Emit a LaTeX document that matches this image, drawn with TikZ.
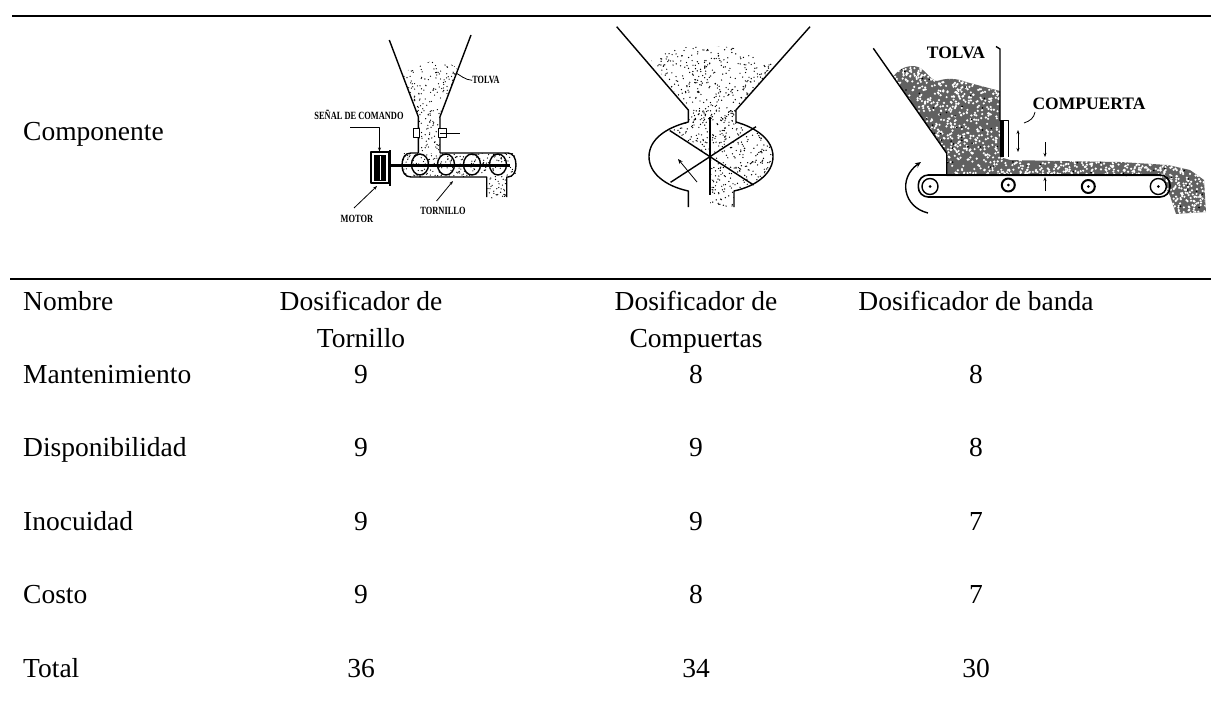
\documentclass[tikz,border=0pt]{standalone}
\usepackage{fontspec}
\setmainfont{Liberation Serif}
\usetikzlibrary{arrows.meta}
\newcommand{\speckle}[7]{%
  \foreach \k in {1,...,#5}{%
    \pgfmathsetmacro{\sx}{#1+rnd*(#2-#1)}%
    \pgfmathsetmacro{\sy}{#3+rnd*(#4-#3)}%
    \fill[#7] (\sx,\sy) circle[radius=#6pt];}}
\begin{document}
\begin{tikzpicture}[x=1pt,y=-1pt,line join=round,
  tx/.style={font=\fontsize{27.5}{37}\selectfont, inner sep=0pt, anchor=base},
  lt/.style={tx, anchor=base west},
  lab/.style={font=\fontsize{10.5}{11}\selectfont\bfseries, inner sep=0pt},
  bigl/.style={font=\fontsize{17.5}{18}\selectfont\bfseries, inner sep=0pt},
  rule/.style={line width=2pt},
  ln/.style={line width=1.4pt},
  thinln/.style={line width=0.8pt},
  tip/.style={-{Stealth[length=4pt,width=3pt]}}]
\pgfmathsetseed{4242}
\useasboundingbox (0,0) rectangle (1211,715);
\fill[white] (0,0) rectangle (1211,715);

% ---------------- table rules
\draw[rule] (12,15.5) -- (1211,15.5);
\draw[rule] (10,279) -- (1211,279);

% ---------------- table text
\node[lt] (comp) at (23,140) {Componente};
\node[lt] (nom) at (23,310) {Nombre};
\node[tx, align=center] (h1) at (361,347) {Dosificador de\\Tornillo};
\node[tx, align=center] (h2) at (696,347) {Dosificador de\\Compuertas};
\node[tx] (h3) at (976,310) {Dosificador de banda};

\node[lt] (r1) at (23,383) {Mantenimiento};
\node[tx] (r1a) at (361,383) {9};
\node[tx] (r1b) at (696,383) {8};
\node[tx] (r1c) at (976,383) {8};

\node[lt] (r2) at (23,456.5) {Disponibilidad};
\node[tx] (r2a) at (361,456.5) {9};
\node[tx] (r2b) at (696,456.5) {9};
\node[tx] (r2c) at (976,456.5) {8};

\node[lt] (r3) at (23,530) {Inocuidad};
\node[tx] (r3a) at (361,530) {9};
\node[tx] (r3b) at (696,530) {9};
\node[tx] (r3c) at (976,530) {7};

\node[lt] (r4) at (23,603.5) {Costo};
\node[tx] (r4a) at (361,603.5) {9};
\node[tx] (r4b) at (696,603.5) {8};
\node[tx] (r4c) at (976,603.5) {7};

\node[lt] (r5) at (23,677) {Total};
\node[tx] (r5a) at (361,677) {36};
\node[tx] (r5b) at (696,677) {34};
\node[tx] (r5c) at (976,677) {30};

% ================= picture 1 : screw feeder
\begin{scope}
  \clip (404,76) .. controls (410,60) and (450,56) .. (458,70) -- (440,116.7) -- (440,153) -- (418.3,153) -- (418.3,116.7) -- cycle;
  \speckle{400}{462}{56}{154}{380}{0.65}{black}
\end{scope}
\begin{scope}
  \clip (402,153) rectangle (516,177);
  \speckle{402}{516}{153}{177}{190}{0.65}{black}
\end{scope}
\begin{scope}
  \clip (487,176) rectangle (507,198);
  \speckle{487}{507}{176}{198}{35}{0.65}{black}
\end{scope}
\draw[ln] (389.3,40) -- (418.3,116.7) -- (418.3,153);
\draw[ln] (471,35) -- (440,116.7) -- (440,153);
\draw[thinln, fill=white] (413.5,128.5) rectangle (419,137);
\draw[thinln, fill=white] (438.5,128.5) rectangle (446,137);
\draw[line width=1.6pt] (440,133.3) -- (460,133.3);
% tube
\draw[ln] (418.3,153) -- (411,153) .. controls (405,153) and (402,158) .. (402,165) .. controls (402,172) and (405,177) .. (411,177) -- (486.7,177) -- (486.7,197);
\draw[ln] (506.7,197) -- (506.7,177) -- (508,177) .. controls (513,177) and (516,172) .. (516,165) .. controls (516,158) and (513,153) .. (508,153) -- (440,153);
% flights
\foreach \fx in {420,446,472,498}
  \draw[ln] (\fx,164.5) ellipse[x radius=8.5pt, y radius=10.5pt];
% shaft
\draw[line width=2.6pt] (388,165.7) -- (510,165.7);
% motor
\draw[ln, fill=white] (371,152) rectangle (389,183);
\fill (374,155) rectangle (386,181);
\draw[white, line width=1pt] (380,156) -- (380,180);
\draw[line width=1.8pt] (390,150) -- (390,186);
% labels
\node[lab] (tolva1) at (486,80.3) {\scalebox{0.78}[1.05]{TOLVA}};
\coordinate (t1) at (456,73);
\draw[thinln] (tolva1.west) .. controls (465,80) and (460,75) .. (t1);
\node[lab] (senal) at (359,115) {\scalebox{0.8}[1.05]{SEÑAL DE COMANDO}};
\coordinate (s0) at (350,127.3);
\coordinate (s1) at (379.5,151.5);
\draw[thinln, tip] (s0) -- (379.5,127.3) -- (s1);
\node[lab] (motor) at (357,219) {\scalebox{0.8}[1.05]{MOTOR}};
\coordinate (mo1) at (377,186);
\draw[thinln, tip] (354,208) -- (mo1);
\node[lab] (torn) at (443,211) {\scalebox{0.8}[1.05]{TORNILLO}};
\coordinate (to1) at (453,181);
\draw[thinln, tip] (436.5,201) -- (to1);

% ================= picture 2 : rotary gate feeder
\begin{scope}
  \clip (651,60) .. controls (670,42) and (745,38) .. (774,66) -- (736.7,108.3) -- (736,121) -- (688.3,121) -- (688.3,110) -- cycle;
  \speckle{648}{776}{38}{121}{560}{0.7}{black}
\end{scope}
\begin{scope}
  \clip (688.3,110) -- (688.3,122) .. controls (665,128) and (649,140) .. (649,156.7) .. controls (649,173) and (665,186) .. (688.3,191) -- (688.3,207) -- (734,207) -- (734,191) .. controls (757,186) and (773,173) .. (773,156.7) .. controls (773,140) and (757,128) .. (736,122) -- (736,110) -- cycle;
  \clip (710,156.7) -- (640,107.4) -- (640,95) -- (800,95) -- (800,215) -- (710,215) -- cycle;
  \speckle{645}{778}{105}{210}{780}{0.7}{black}
\end{scope}
\draw[ln] (616.7,26.7) -- (688.3,110) -- (688.3,122) .. controls (665,128) and (649,140) .. (649,156.7) .. controls (649,173) and (665,186) .. (688.3,191) -- (688.3,207);
\draw[ln] (810,26.7) -- (736,110) -- (736,122) .. controls (757,128) and (773,140) .. (773,156.7) .. controls (773,173) and (757,186) .. (734,191) -- (734,207);
\draw[ln] (669.7,130.5) -- (753.6,185);
\draw[ln] (756,126.7) -- (670.6,182.3);
\draw[ln] (710,116.7) -- (710,195);
\coordinate (ar0) at (697,182);
\coordinate (ar1) at (678,159);
\draw[thinln, -{Stealth[length=5pt,width=4pt]}] (ar0) -- (ar1);

% ================= picture 3 : belt feeder
\begin{scope}
  \clip (893,77) .. controls (899,68) and (910,64) .. (918,67) .. controls (926,70) and (930,80) .. (937,81) .. controls (946,78) and (956,78) .. (966,82) -- (1000,91) -- (1000,157) -- (1010,160) -- (1060,161) -- (1120,162) -- (1168,165) -- (1190,170) -- (1204,180) -- (1206,212) -- (1176,214) -- (1170,196) -- (1160,176) -- (946.7,176) -- (946.7,153.3) -- cycle;
  \fill[black!62] (885,60) rectangle (1210,216);
  \speckle{888}{1002}{60}{177}{900}{1.2}{white}
  \speckle{1000}{1172}{155}{177}{330}{1.2}{white}
  \speckle{1160}{1208}{162}{216}{220}{1.2}{white}
  \speckle{888}{1208}{60}{216}{300}{0.9}{black}
\end{scope}
\draw[ln] (873.3,48.3) -- (946.7,153.3) -- (946.7,175);
\draw[ln] (996,46.5) -- (1000,49) -- (1000,121);
\fill (999.5,120) rectangle (1004,157);
\draw[thinln] (1004,120) -- (1008,120) -- (1008,157);
\draw[thinln, {Stealth[length=4pt,width=3pt]}-{Stealth[length=4pt,width=3pt]}] (1018,130) -- (1018,152);
\draw[thinln, tip] (1045,142) -- (1045,157);
\draw[thinln, tip] (1045,191) -- (1045,177);
\draw[line width=1.6pt, rounded corners=10pt] (918.3,175) rectangle (1170,197);
\draw[ln, fill=white] (930,186.5) circle[radius=8pt];
\draw[ln, fill=white] (1158.3,186.5) circle[radius=8pt];
\draw[line width=2pt, fill=white] (1008.3,185) circle[radius=6.5pt];
\draw[line width=2pt, fill=white] (1088.3,186.5) circle[radius=6.5pt];
\foreach \rx/\ry in {930/186.5,1158.3/186.5,1008.3/185,1088.3/186.5}
  \fill (\rx,\ry) circle[radius=1.5pt];
\coordinate (rot0) at (928,213);
\coordinate (rot1) at (921,162);
\draw[ln, -{Stealth[length=6pt,width=5pt]}] (rot0) .. controls (903,207) and (898,178) .. (rot1);
\node[bigl] (tolva3) at (956,53.3) {TOLVA};
\node[bigl] (compu) at (1089,104) {COMPUERTA};
\coordinate (c0) at (1035,112);
\coordinate (c1) at (1024,123);
\draw[thinln] (c0) .. controls (1034,118) and (1030,121) .. (c1);
\end{tikzpicture}
\end{document}
